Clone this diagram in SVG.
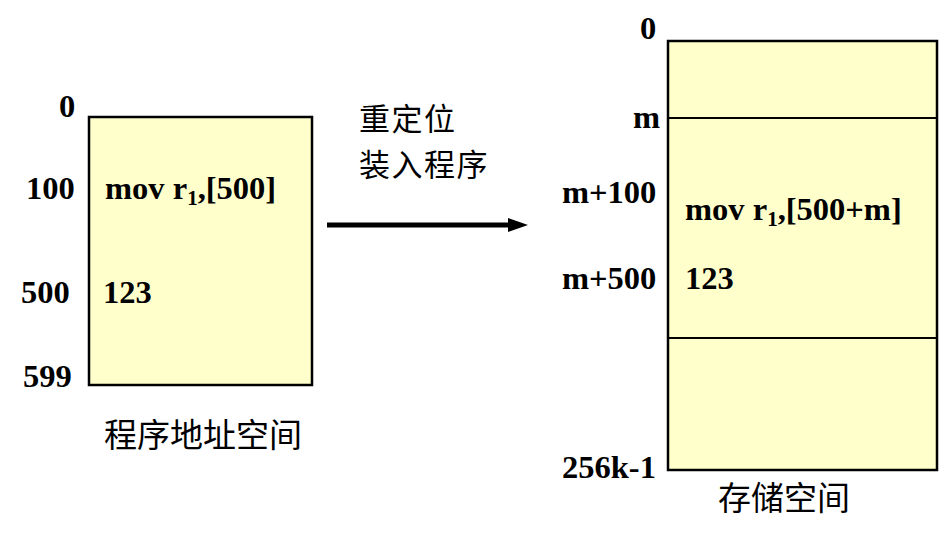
<svg xmlns="http://www.w3.org/2000/svg" width="939" height="538" viewBox="0 0 939 538">
<defs>
<style>
.box{fill:#FFFFCC;stroke:#000;stroke-width:2.5}
.sep{stroke:#000;stroke-width:2}
.lbl{font-family:"Liberation Serif","Times New Roman",serif;font-weight:bold;font-size:32.5px;fill:#000}
.sub{font-size:21px}
.cn{font-family:"Noto Sans CJK SC","Noto Sans CJK JP",sans-serif;font-size:33px;fill:#000}
.cn2{font-family:"Noto Sans CJK SC","Noto Sans CJK JP",sans-serif;font-size:31px;letter-spacing:1.5px;fill:#000}
</style>
</defs>
<rect width="939" height="538" fill="#fff"/>
<g id="program-space">
<rect class="box" x="89" y="117" width="223" height="268"/>
<text class="lbl" x="59" y="117">0</text>
<text class="lbl" x="26" y="199">100</text>
<text class="lbl" x="21" y="303">500</text>
<text class="lbl" x="23" y="387">599</text>
<text class="lbl" x="105" y="199">mov r<tspan class="sub" dy="6">1</tspan><tspan dy="-6">,[500]</tspan></text>
<text class="lbl" x="103" y="303">123</text>
<text class="cn" x="104" y="447">程序地址空间</text>
</g>
<g id="memory-space">
<rect class="box" x="668" y="41" width="269" height="429"/>
<line class="sep" x1="668" y1="118" x2="937" y2="118"/>
<line class="sep" x1="668" y1="338" x2="937" y2="338"/>
<text class="lbl" x="640" y="39">0</text>
<text class="lbl" x="633" y="128">m</text>
<text class="lbl" x="562" y="203">m+100</text>
<text class="lbl" x="562" y="289">m+500</text>
<text class="lbl" x="562" y="478">256k-1</text>
<text class="lbl" x="685" y="220">mov r<tspan class="sub" dy="6">1</tspan><tspan dy="-6">,[500+m]</tspan></text>
<text class="lbl" x="685" y="289">123</text>
<text class="cn" x="718" y="510">存储空间</text>
</g>
<g id="connectors">
<line x1="327" y1="225" x2="512" y2="225" stroke="#000" stroke-width="5"/>
<polygon points="508,218 528,225 508,232" fill="#000"/>
<text class="cn2" x="359" y="130">重定位</text>
<text class="cn2" x="359" y="176">装入程序</text>
</g>
</svg>
